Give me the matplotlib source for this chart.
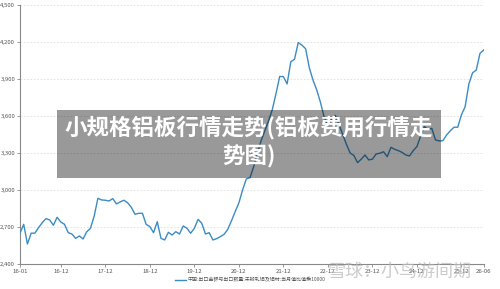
import matplotlib
matplotlib.use("Agg")
import matplotlib.pyplot as plt
import pandas as pd

months = [d.strftime("%y-%m") for d in pd.date_range("2016-01-01", "2026-06-01", freq="MS")]

values = [
    2650, 2722, 2562, 2650, 2650, 2695, 2735, 2768, 2757, 2714,
    2779, 2740, 2722, 2654, 2643, 2608, 2627, 2603, 2662, 2690,
    2789, 2933, 2919, 2917, 2911, 2930, 2887, 2903, 2917, 2897,
    2860, 2803, 2811, 2811, 2722, 2703, 2654, 2743, 2608, 2595,
    2657, 2635, 2662, 2643, 2708, 2690, 2649, 2690, 2762, 2730,
    2643, 2654, 2595, 2605, 2622, 2640, 2680, 2750, 2824, 2895,
    3000, 3090, 3100, 3190, 3300, 3400, 3480, 3560, 3650, 3780,
    3920, 3920, 3860, 4040, 4060, 4195, 4175, 4145, 3990, 3890,
    3810, 3710, 3590, 3527, 3575, 3605, 3530, 3450, 3370, 3300,
    3280, 3222, 3250, 3284, 3244, 3250, 3292, 3298, 3310, 3270,
    3346, 3330, 3319, 3305, 3284, 3276, 3319, 3352, 3438, 3514,
    3490, 3500, 3406, 3398, 3400, 3446, 3480, 3509, 3509, 3610,
    3676, 3860, 3950, 3973, 4108, 4135,
]

xtick_labels = ["16-01", "16-12", "17-12", "18-12", "19-12", "20-12",
                "21-12", "22-12", "23-12", "24-12", "25-12", "26-06"]
yticks = [2400, 2700, 3000, 3300, 3600, 3900, 4200, 4500]

series_name = "中国:出口金额与出口数量:未锻轧铝及铝材:当月值比值乘10000"
title = "小规格铝板行情走势(铝板费用行情走\n势图)"
watermark = "雪球：小鸟游间期"

plt.rcParams['font.family'] = ['Noto Sans CJK SC', 'DejaVu Sans']

fig = plt.figure(figsize=(5.0, 2.89), dpi=100)
ax = fig.add_axes([20/500, 25/289, 463.7/500, 259/289])

x = list(range(len(months)))
line, = ax.plot(x, values, color="#3b8cc4", lw=1.0, label=series_name, zorder=3)

ax.set_xlim(0, len(months) - 1)
ax.set_ylim(2400, 4500)
ax.set_yticks(yticks)
ax.set_yticklabels([f"{v:,}" for v in yticks])
tick_pos = [months.index(l) for l in xtick_labels]
ax.set_xticks(tick_pos)
ax.set_xticklabels(xtick_labels)

for v in yticks[1:]:
    ax.axhline(v, color="#dddddd", lw=0.6, ls=(0, (2, 2)), zorder=1)

for s in ["top", "right"]:
    ax.spines[s].set_visible(False)
for s in ["left", "bottom"]:
    ax.spines[s].set_color("#888888")
    ax.spines[s].set_linewidth(0.8)

ax.tick_params(axis="both", labelsize=4.3, colors="#888888", labelcolor="#555555",
               length=2.5, width=0.6, pad=1)

leg = fig.legend(handles=[line], loc="center", bbox_to_anchor=(250/500, 1 - 280/289),
                 frameon=False, fontsize=3.6, handlelength=2.2, handletextpad=0.4,
                 borderaxespad=0)
for t in leg.get_texts():
    t.set_color("#555555")

# title overlay box
fig.patches.append(plt.Rectangle((57/500, 1 - 178/289), 384/500, 68/289,
                                 transform=fig.transFigure, facecolor="black",
                                 alpha=0.4, edgecolor="none", zorder=5))
fig.text(249/500, 1 - 142/289, title, ha="center", va="center", color="white",
         fontsize=16.2, fontweight="bold", linespacing=1.3, zorder=6)

# watermark
fig.text(400/500, 1 - 272/289, watermark, ha="center", va="center",
         color="#bbbbbb", alpha=0.75, fontsize=13, zorder=6)

fig.savefig("out.png", dpi=100)
